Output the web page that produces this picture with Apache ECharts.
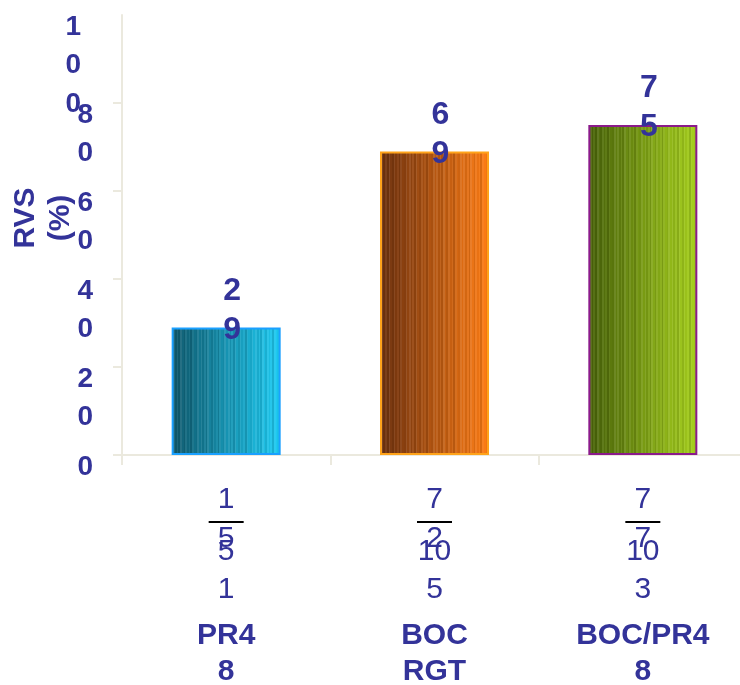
<!DOCTYPE html>
<html>
<head>
<meta charset="utf-8">
<script src="https://cdn.jsdelivr.net/npm/echarts@6/dist/echarts.min.js"></script>
<style>
html,body{margin:0;padding:0;background:#fff;}
#chart{width:740px;height:685px;}
</style>
</head>
<body>
<div id="chart"></div>
<script>
// ---- data ----
const categories = ['PR48', 'BOC RGT', 'BOC/PR48'];
const rvsValues = [29, 69, 75];
const numeratorLines = [['1', '5'], ['7', '2'], ['7', '7']];
const denominatorLines = [['5', '1'], ['10', '5'], ['10', '3']];
const nameLines = [['PR4', '8'], ['BOC', 'RGT'], ['BOC/PR4', '8']];
const yTickMax = 100;
const yTickStep = 20;
const yAxisName = 'RVS\n(%)';

// ---- styles ----
const TXT = '#333399';
const FONT = '"Liberation Sans", Arial, sans-serif';
const AXIS = '#ebe9de';
const barStyles = [
  { c0: [14, 88, 108], c1: [30, 205, 245], border: '#1aa0ff' },
  { c0: [108, 48, 14], c1: [255, 125, 20], border: '#ffa31a' },
  { c0: [72, 98, 8], c1: [168, 210, 30], border: '#8b1a8b' }
];
const stripePattern = [0, 0.14, -0.06, 0.09, -0.1, 0.16, 0.02, -0.08, 0.12, -0.03, 0.07, -0.12, 0.1, 0.0, -0.05, 0.15];

function stripedGradient(c0, c1) {
  const n = 64;
  const stops = [];
  for (let i = 0; i < n; i++) {
    const t = i / (n - 1);
    const k = stripePattern[i % stripePattern.length];
    const rgb = c0.map((v, j) => {
      let x = v + (c1[j] - v) * t;
      x = k >= 0 ? x + (255 - x) * k * 0.6 : x * (1 + k);
      return Math.round(Math.max(0, Math.min(255, x)));
    });
    const col = 'rgb(' + rgb.join(',') + ')';
    stops.push({ offset: i / n, color: col });
    stops.push({ offset: (i + 1) / n, color: col });
  }
  return { type: 'linear', x: 0, y: 0, x2: 1, y2: 0, colorStops: stops };
}

const chart = echarts.init(document.getElementById('chart'), null, { renderer: 'canvas' });

const digitRich = { fontSize: 28, fontWeight: 'bold', color: TXT, fontFamily: FONT, lineHeight: 38.5 };
const wrapDigits = (v, style) => String(v).split('').map(c => '{' + style + '|' + c + '}').join('\n');

function yLabel(showFn, style, showMax) {
  return {
    margin: 29,
    align: 'right',
    verticalAlign: 'top',
    padding: [-7, 0, 0, 0],
    showMaxLabel: showMax,
    showMinLabel: true,
    hideOverlap: false,
    formatter: v => showFn(v) ? wrapDigits(v, style) : '',
    rich: {
      g: digitRich,
      h: Object.assign({}, digitRich, { padding: [0, 12, 0, 0] })
    }
  };
}

chart.setOption({
  animation: false,
  backgroundColor: '#ffffff',
  grid: { left: 122, right: -7, top: 15, bottom: 230, containLabel: false, outerBoundsMode: 'none' },
  xAxis: [
    {
      type: 'category',
      data: categories,
      position: 'bottom',
      axisLine: { show: true, onZero: false, lineStyle: { color: AXIS, width: 2 } },
      axisTick: { show: true, length: 10, lineStyle: { color: AXIS, width: 2 } },
      axisLabel: {
        interval: 0,
        margin: 24,
        verticalAlign: 'top',
        formatter: (v, i) => '{n1|' + numeratorLines[i][0] + '}\n{bar|}\n{n2|' + numeratorLines[i][1] + '}',
        rich: {
          n1: { fontSize: 30, color: TXT, fontFamily: FONT, lineHeight: 42 },
          bar: { width: 35, height: 2, lineHeight: 2, backgroundColor: '#000000' },
          n2: { fontSize: 30, color: TXT, fontFamily: FONT, lineHeight: 32 }
        }
      },
      splitLine: { show: false }
    },
    {
      type: 'category',
      data: categories,
      position: 'bottom',
      axisLine: { show: false },
      axisTick: { show: false },
      axisLabel: {
        interval: 0,
        margin: 77,
        verticalAlign: 'top',
        formatter: (v, i) => '{d|' + denominatorLines[i][0] + '}\n{d|' + denominatorLines[i][1] + '}\n{sp| }\n{b|' + nameLines[i][0] + '}\n{b|' + nameLines[i][1] + '}',
        rich: {
          d: { fontSize: 30, color: TXT, fontFamily: FONT, lineHeight: 38.5 },
          sp: { fontSize: 4, lineHeight: 9 },
          b: { fontSize: 30, fontWeight: 'bold', color: TXT, fontFamily: FONT, lineHeight: 36 }
        }
      },
      splitLine: { show: false }
    }
  ],
  yAxis: [
    {
      type: 'value',
      min: 0,
      max: yTickMax,
      interval: yTickStep,
      name: yAxisName,
      nameLocation: 'middle',
      nameGap: 44,
      nameRotate: 90,
      nameMoveOverlap: false,
      nameTextStyle: { fontSize: 30, fontWeight: 'bold', color: TXT, fontFamily: FONT, lineHeight: 35, padding: [0, 0, 0, 34] },
      axisLine: { show: true, lineStyle: { color: AXIS, width: 2 } },
      axisTick: { show: true, length: 9, lineStyle: { color: AXIS, width: 2 } },
      splitLine: { show: false },
      axisLabel: yLabel(v => v < yTickMax, 'g', false)
    },
    {
      type: 'value',
      position: 'left',
      offset: 0,
      min: 0,
      max: yTickMax,
      interval: yTickStep,
      axisLine: { show: false },
      axisTick: { show: false },
      splitLine: { show: false },
      axisLabel: yLabel(v => v === yTickMax, 'h', true)
    }
  ],
  series: [{
    type: 'bar',
    xAxisIndex: 0,
    yAxisIndex: 0,
    barWidth: 109,
    data: rvsValues.map((v, i) => ({
      value: v,
      itemStyle: {
        color: stripedGradient(barStyles[i].c0, barStyles[i].c1),
        borderColor: barStyles[i].border,
        borderWidth: 2
      }
    })),
    label: {
      show: true,
      position: 'top',
      distance: 0,
      offset: [6, 22],
      formatter: p => String(p.value).split('').join('\n'),
      fontSize: 32,
      fontWeight: 'bold',
      lineHeight: 39,
      color: TXT,
      fontFamily: FONT
    }
  }]
});
</script>
</body>
</html>
